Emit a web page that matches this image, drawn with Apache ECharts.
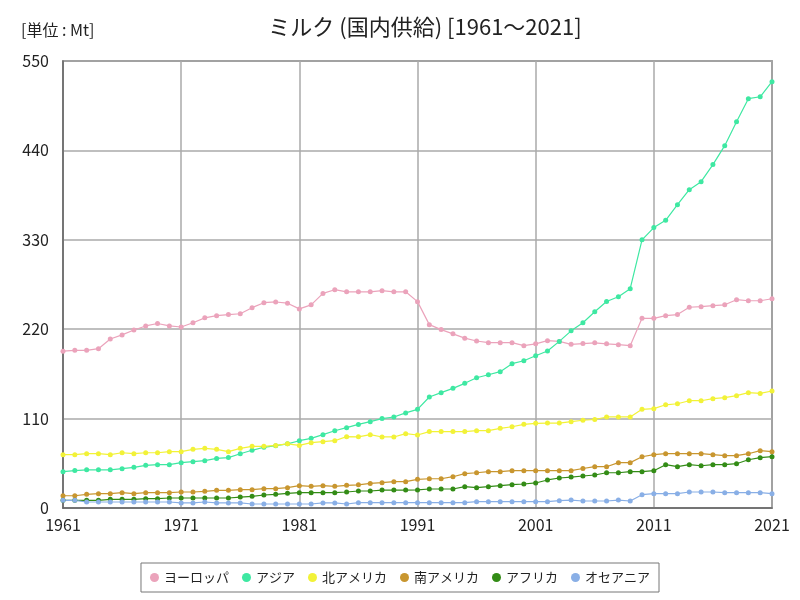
<!DOCTYPE html>
<html><head><meta charset="utf-8">
<script src="https://cdn.jsdelivr.net/npm/echarts@6/dist/echarts.min.js"></script>
<style>html,body{margin:0;padding:0;background:#fff}#c{width:800px;height:600px}</style>
</head><body><div id="c"></div>
<script>
const years = [];
for (let y = 1961; y <= 2021; y++) years.push(String(y));

const seriesNames = ['ヨーロッパ','アジア','北アメリカ','南アメリカ','アフリカ','オセアニア'];

const europe = [193,194,194,196,208,213,219,224,227,224,
 222.7,228,234,236.6,238,239,246.5,252.6,253.5,252,
 245,250,264,268.6,266,266,266,267.4,266,266,
 253.9,225.6,219.5,214.3,209,205.5,203.4,203.4,203.4,199.7,
 202,205.9,205,201.4,202.3,203.2,202,201,199.7,233.4,
 233.4,236.6,238,247,247.7,249,250,256.3,255,255,
 257.5];
const asia = [44.7,46,47,47,47,48.4,50,52.5,53.3,53.3,
 55.8,57,58.2,61,62,66.8,71,74.7,76.7,79,
 82.8,85.7,90.2,95,98.8,102.8,106.2,110,112,117,
 121.4,136.6,141.9,147.2,153.4,160.3,164,167.7,177.6,181.2,
 187.4,193.2,205,218,228,241.5,254,260,269.8,330,
 345,354,373.2,391.7,401.5,422.5,445.8,475.3,503.6,506,
 524.5];
const northAmerica = [65.6,65.6,66.8,66.8,65.6,68,66.8,68,68,69.3,
 69.3,72.2,73.4,72.2,69.3,73.4,75.9,75.9,77,79,
 77,80.4,81.6,82.8,87.8,87.6,90.2,87.4,87.4,91.5,
 89.8,94,94,94,94,95.2,95.2,98,100,103,
 104.2,104.5,104.5,106.2,108,108.9,112,112,112,121.4,
 122.2,127,128.3,132,132,134.5,135.7,138.2,141.9,141,
 144];
const southAmerica = [15.1,15.1,16.8,17.6,17.6,18.9,17.6,18.9,18.9,18.9,
 19.7,19.7,20.5,21.8,21.8,22.6,22.6,23.8,23.8,25,
 27.5,26.7,27.5,26.7,27.9,28.5,30.2,31.2,32.4,32.4,
 35.3,36,36,38.5,42.2,43.4,44.7,44.7,45.9,45.9,
 45.9,45.9,45.9,45.9,48.6,50.8,50.8,55.8,55.8,63.1,
 65.6,66.8,66.8,66.8,66.8,65.6,64.4,64.4,66.8,70.5,
 69.3];
const africa = [9.4,9.4,9.4,9.4,10.7,10.7,10.7,11.5,11.5,12.3,
 12.3,12.3,12.3,12.3,12.3,13.5,14.4,16,16.8,18,
 18.9,18.9,18.9,18.9,19.7,20.9,20.9,22.1,22.1,22.1,
 22.3,23.4,23.4,23.4,26.2,25,26.2,27.5,28.7,29.5,
 30.8,34.5,36.9,38.1,39.4,40.6,43.4,43.4,44.7,44.7,
 45.9,53.3,50.8,53.3,52,53.3,53.3,54.5,59.4,61.9,
 63.1];
const oceania = [9.4,9.4,7.4,7.4,7.4,7.4,7.4,7.4,7.4,7.4,
 6.2,6.2,7.4,6.2,6.2,6.2,4.9,4.9,4.9,4.9,
 4.9,4.9,6.2,6.2,4.9,6.6,6.6,6.6,6.6,6.6,
 6.6,6.6,6.6,6.6,6.6,7.8,7.8,7.8,7.8,7.8,
 7.8,7.8,9,9.8,8.6,8.6,8.6,9.8,8.6,16.4,
 17.6,17.6,17.6,19.7,19.7,19.7,18.9,18.9,18.9,18.9,
 17.6];

const yTicks = [0,110,220,330,440,550];

const allData = [europe, asia, northAmerica, southAmerica, africa, oceania];
const colors = ['#eba3bb','#3ee8a2','#f2f238','#c8962f','#338c16','#89afe6'];

const chart = echarts.init(document.getElementById('c'));
const font = '"Noto Sans CJK JP", "Noto Sans", sans-serif';
chart.setOption({
  animation: false,
  textStyle: {fontFamily: font},
  title: [
    {text: 'ミルク (国内供給) [1961～2021]', left: 420, top: 11, textAlign: 'center',
     textStyle: {fontSize: 22, fontWeight: 'normal', color: '#222', fontFamily: font}},
    {text: '[単位 : Mt]', left: 16, top: 17,
     textStyle: {fontSize: 16, fontWeight: 'normal', color: '#222', fontFamily: font}}
  ],
  legend: {
    data: seriesNames, bottom: 8, left: 'center',
    borderColor: '#777', borderWidth: 1, padding: [8, 9],
    icon: 'circle', itemWidth: 9, itemHeight: 9, itemGap: 13,
    textStyle: {fontSize: 13, color: '#222'}
  },
  grid: {left: 63, right: 28, top: 61, bottom: 92, show: true, borderColor: '#666', borderWidth: 1.5},
  xAxis: {
    type: 'category', data: years, boundaryGap: false,
    axisLine: {lineStyle: {color: '#666', width: 1.5}},
    axisTick: {show: false},
    axisLabel: {interval: 9, fontSize: 16, color: '#222', margin: 9},
    splitLine: {show: true, interval: 9, lineStyle: {color: '#aaa', width: 1.5}}
  },
  yAxis: {
    type: 'value', min: yTicks[0], max: yTicks[yTicks.length-1], interval: 110,
    axisLine: {show: true, lineStyle: {color: '#666', width: 1.5}},
    axisTick: {show: false},
    axisLabel: {fontSize: 16, color: '#222', margin: 14},
    splitLine: {lineStyle: {color: '#aaa', width: 1.5}}
  },
  series: seriesNames.map((n, i) => ({
    name: n, type: 'line', data: allData[i],
    symbol: 'circle', symbolSize: 5, showSymbol: true,
    itemStyle: {color: colors[i]},
    lineStyle: {width: 1.2, color: colors[i]},
    emphasis: {disabled: true}
  }))
});
</script></body></html>
